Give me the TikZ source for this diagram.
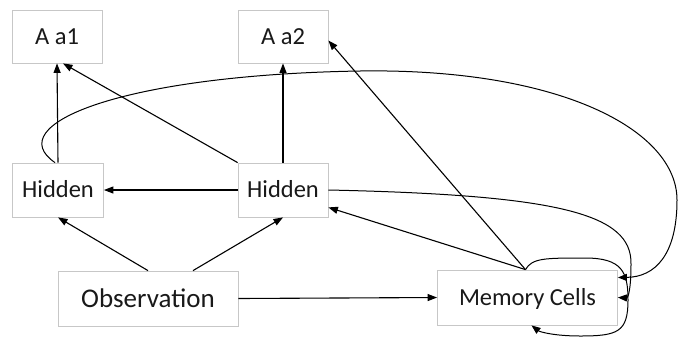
\documentclass[tikz,border=0pt]{standalone}
\usepackage{fontspec}
\setmainfont{Carlito}
\usetikzlibrary{arrows.meta,calc}
\begin{document}
\begin{tikzpicture}[x=1pt,y=-1pt,
  box/.style={draw=black!22,line width=0.8pt,fill=white,minimum width=90pt,
    minimum height=53pt,inner sep=0pt,text height=15.8pt,text depth=0pt,
    font=\fontsize{24.5}{28}\selectfont,text=black!90},
  link/.style={line width=1.1pt,-{Triangle[length=9.5pt,width=7pt]}},
  curvelink/.style={line width=1pt,-{Triangle[length=9pt,width=7pt]}}]
\useasboundingbox (0,0) rectangle (679,338);

% boxes
\node[box] (a1) at (57,36.5) {A a1};
\node[box] (a2) at (283,36.5) {A a2};
\node[box,minimum width=91pt,minimum height=54pt] (hL) at (58,190) {Hidden};
\node[box,minimum height=54pt] (hR) at (283,190) {Hidden};
\node[box,minimum width=180pt,minimum height=55pt,
      font=\fontsize{27}{31}\selectfont,text height=17.4pt] (obs) at (148,298.5) {Observation};
\node[box,minimum width=180pt,minimum height=55pt] (mem) at (527.5,297.5) {Memory Cells};

% straight connectors
\draw[link] (hL.north) -- (a1.south);
\draw[link] (hR.north west) -- ([xshift=6pt]a1.south);
\draw[link] (hR.north) -- (a2.south);
\draw[link] (hR.west) -- (hL.east);
\draw[link] (obs.north) -- (hL.south);
\draw[link] ([xshift=45pt]obs.north) -- (hR.south);
\draw[link] (obs.east) -- (mem.west);
\draw[link] ([xshift=-2pt]mem.north) -- ([yshift=-4pt]a2.east);
\draw[link] ([xshift=-2pt]mem.north) -- ([yshift=10pt]hR.south east);

% curved connectors
\draw[curvelink] (hR.east) .. controls (560,195) and (632,214) .. (631,264)
  .. controls (631,290) and (628,298) .. (mem.east);
\draw[curvelink] ([xshift=-3pt]hL.north) .. controls (0,125) and (120,75) .. (360,71)
  .. controls (560,68) and (677,130) .. (677,200)
  .. controls (677,255) and (655,277) .. ([yshift=20pt]mem.east);
\draw[curvelink] ([xshift=-2pt]mem.north) .. controls (532,258) and (545,258) .. (585,258)
  .. controls (622,258) and (628,272) .. (628,300)
  .. controls (628,332) and (618,336) .. (580,336)
  .. controls (555,336) and (540,332) .. ([xshift=4pt]mem.south);
\end{tikzpicture}
\end{document}
